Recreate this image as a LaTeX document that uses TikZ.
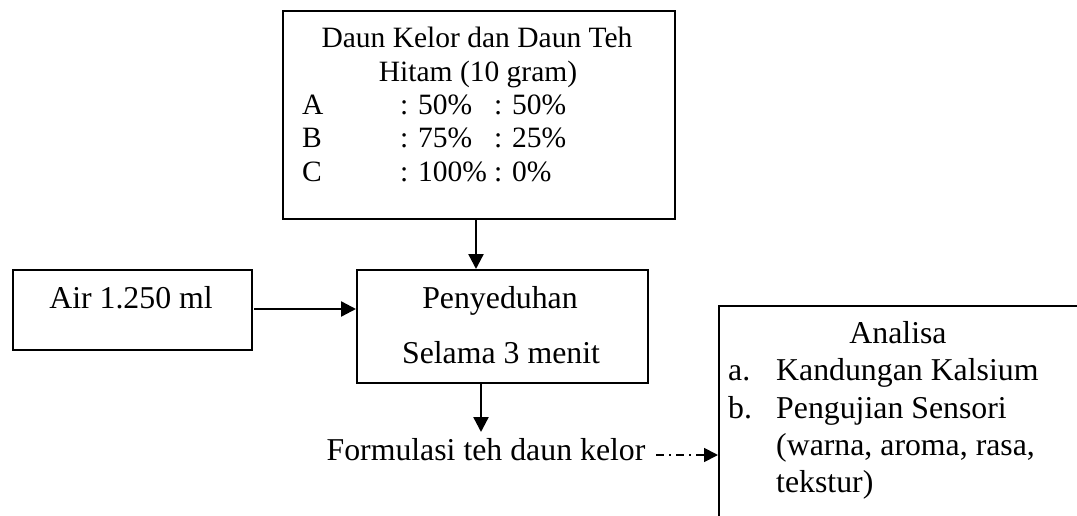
\documentclass[tikz,border=0pt]{standalone}
\usepackage{fontspec}
\setmainfont{Liberation Serif}
\usetikzlibrary{arrows.meta}
\tikzset{
  box/.style={draw, line width=1.6pt, inner sep=0pt, anchor=north west},
  txt/.style={inner sep=0pt, anchor=base, font=\fontsize{31.8}{36}\selectfont},
  txtl/.style={txt, anchor=base west},
  stxt/.style={inner sep=0pt, anchor=base, font=\fontsize{29.5}{33}\selectfont},
  stxtl/.style={stxt, anchor=base west},
  arr/.style={line width=2.4pt, -{Triangle[length=15pt,width=15pt]}},
  darr/.style={line width=1.8pt, dash pattern=on 8pt off 5pt on 2pt off 5pt, -{Triangle[length=14pt,width=14pt]}}
}
\begin{document}
\begin{tikzpicture}[x=1pt,y=-1pt]
\useasboundingbox (0,0) rectangle (1077,516);
\begin{scope}
\clip (0,0) rectangle (1077,516);
% boxes
\node[box, minimum width=392pt, minimum height=208pt] (top) at (282,10) {};
\node[box, minimum width=239pt, minimum height=80pt] (air) at (12,269) {};
\node[box, minimum width=291pt, minimum height=113pt] (pen) at (356,269) {};
\node[box, minimum width=400pt, minimum height=260pt] (ana) at (718,305) {};
% top box text
\node[stxt] (t1) at (477,48) {Daun Kelor dan Daun Teh};
\node[stxt] (t2) at (478,82) {Hitam (10 gram)};
\node[stxtl] (ra) at (302,115) {A};
\node[stxtl] (ra1) at (400,115) {: 50\%};
\node[stxtl] (ra2) at (494,115) {: 50\%};
\node[stxtl] (rb) at (302,148) {B};
\node[stxtl] (rb1) at (400,148) {: 75\%};
\node[stxtl] (rb2) at (494,148) {: 25\%};
\node[stxtl] (rc) at (302,182) {C};
\node[stxtl] (rc1) at (400,182) {: 100\%};
\node[stxtl] (rc2) at (494,182) {: 0\%};
% air
\node[txt] (airt) at (131,308) {Air 1.250 ml};
% penyeduhan
\node[txt] (p1) at (500,308) {Penyeduhan};
\node[txt] (p2) at (501,363) {Selama 3 menit};
% formulasi
\node[txt] (form) at (486,460) {Formulasi teh daun kelor};
% analisa
\node[txt] (a0) at (898,343) {Analisa};
\node[txtl] (a1) at (728,380) {a.};
\node[txtl] (a1t) at (776,380) {Kandungan Kalsium};
\node[txtl] (a2) at (728,418) {b.};
\node[txtl] (a2t) at (776,418) {Pengujian Sensori};
\node[txtl] (a3t) at (776,455) {(warna, aroma, rasa,};
\node[txtl] (a4t) at (776,492) {tekstur)};
% connectors
\coordinate (c1) at (476,218);
\draw[arr] (c1) -- (c1 |- pen.north);
\coordinate (c2) at (254,309);
\draw[arr] (c2) -- (c2 -| pen.west);
\coordinate (c3) at (481,382);
\draw[arr] (c3) -- (481,432);
\coordinate (c4) at (656,455);
\draw[darr] (c4) -- (c4 -| ana.west);
\end{scope}
\end{tikzpicture}
\end{document}
